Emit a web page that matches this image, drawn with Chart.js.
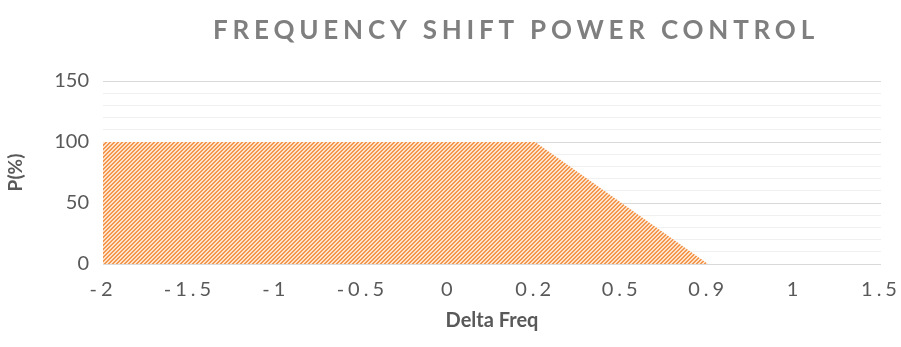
<!DOCTYPE html>
<html>
<head>
<meta charset="utf-8">
<script src="https://cdn.jsdelivr.net/npm/chart.js@4/dist/chart.umd.min.js"></script>
<style>
    html, body { margin: 0; padding: 0; background: #fff; }
    #wrap { width: 901px; height: 347px; }
</style>
</head>
<body>
<div id="wrap"><canvas id="powerChart"></canvas></div>
<script>
const deltaFreq = ['-2', '-1.5', '-1', '-0.5', '0', '0.2', '0.5', '0.9', '1', '1.5'];
const powerPercent = [100, 100, 100, 100, 100, 100, 50, 0, 0, 0];
const yTicks = [0, 50, 100, 150];

const chartTitle = 'FREQUENCY SHIFT POWER CONTROL';
const textGray = '#595959';
const fontName = 'Lato, "Open Sans", sans-serif';

// small tile with "/" stripes used as area fill
function makeHatch() {
    let tile = document.createElement('canvas');
    tile.width = 4;
    tile.height = 4;
    let tctx = tile.getContext('2d');
    tctx.fillStyle = '#fde2cc';
    tctx.fillRect(0, 0, 4, 4);
    tctx.fillStyle = '#f3974f';
    for (let i = 0; i < 4; i++) {
        tctx.fillRect(i, 3 - i, 1, 1);
        tctx.fillRect(i, (4 - i) % 4, 1, 1);
    }
    return document.getElementById('powerChart').getContext('2d').createPattern(tile, 'repeat');
}

const titlePlugin = {
    id: 'spacedTitle',
    afterDraw(chart) {
        let ctx = chart.ctx;
        ctx.save();
        ctx.font = 'bold 26px ' + fontName;
        ctx.letterSpacing = '4.8px';
        ctx.fillStyle = '#7f7f7f';
        ctx.textAlign = 'center';
        ctx.textBaseline = 'middle';
        ctx.fillText(chartTitle, 516, 31);
        ctx.restore();
    }
};

// x tick labels are drawn with wider letter spacing
const spacedTicks = {
    id: 'spacedTicks',
    afterLayout(chart) {
        let xs = chart.scales.x;
        if (xs._spaced) return;
        let orig = xs.drawLabels.bind(xs);
        xs.drawLabels = function (area) {
            this.ctx.save();
            this.ctx.letterSpacing = '4px';
            orig(area);
            this.ctx.restore();
        };
        xs._spaced = true;
    }
};

let ctx = document.getElementById('powerChart').getContext('2d');
let powerChart = new Chart(ctx, {
    type: 'line',
    data: {
        labels: deltaFreq,
        datasets: [{
            label: 'P(%)',
            data: powerPercent,
            fill: 'origin',
            backgroundColor: makeHatch(),
            borderWidth: 0,
            pointRadius: 0,
            tension: 0
        }]
    },
    options: {
        responsive: true,
        maintainAspectRatio: false,
        animation: false,
        layout: { padding: { top: 81, right: 20, left: 0, bottom: 10 } },
        plugins: {
            legend: { display: false },
            tooltip: { enabled: false }
        },
        scales: {
            x: {
                offset: false,
                grid: { display: false, drawTicks: false },
                border: { display: false },
                ticks: {
                    color: textGray,
                    font: { family: fontName, size: 20 },
                    padding: 14,
                    maxRotation: 0,
                    autoSkip: false
                },
                title: {
                    display: true,
                    text: 'Delta Freq',
                    color: textGray,
                    font: { family: fontName, size: 20, weight: 'bold' },
                    padding: { top: 6 }
                },
                afterFit(scale) {
                    scale.height = 73;
                    scale.paddingLeft = 0;
                    scale.paddingRight = 0;
                }
            },
            y: {
                min: 0,
                max: 150,
                afterBuildTicks(scale) {
                    let ticks = [];
                    for (let v = 0; v <= 150; v += 10) ticks.push({ value: v });
                    scale.ticks = ticks;
                },
                grid: {
                    drawTicks: false,
                    lineWidth: 1,
                    color: c => yTicks.includes(c.tick.value) ? '#d9d9d9' : '#f0f0f0'
                },
                border: { display: false },
                ticks: {
                    color: textGray,
                    font: { family: fontName, size: 20 },
                    padding: 14,
                    autoSkip: false,
                    callback: v => yTicks.includes(v) ? v : ''
                },
                title: {
                    display: true,
                    text: 'P(%)',
                    color: textGray,
                    font: { family: fontName, size: 19, weight: 'bold' },
                    padding: { bottom: 10 }
                },
                afterFit(scale) { scale.width = 103; }
            }
        }
    },
    plugins: [titlePlugin, spacedTicks]
});
</script>
</body>
</html>
